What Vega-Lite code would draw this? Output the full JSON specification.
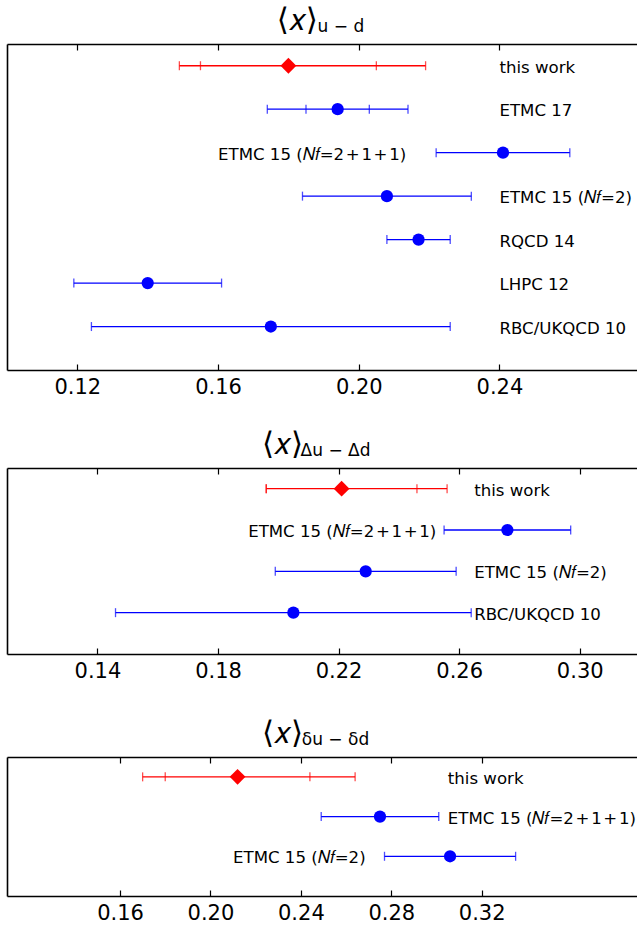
{
  "$schema": "https://vega.github.io/schema/vega-lite/v6.json",
  "padding": {"left": 7, "top": 5, "right": 0, "bottom": 0},
  "background": "white",
  "config": {
    "font": "DejaVu Sans",
    "view": {"stroke": null},
    "axis": {
      "domainColor": "black", "domainWidth": 1.6, "tickColor": "black", "tickWidth": 1.2,
      "tickSize": -6, "labelFontSize": 21, "labelColor": "black", "labelPadding": 12,
      "grid": false, "labelFont": "DejaVu Sans", "title": null
    },
    "title": {
      "fontSize": 31, "subtitleFontSize": 17, "subtitlePadding": -18, "fontWeight": "normal",
      "color": "black", "subtitleColor": "black", "font": "DejaVu Sans", "subtitleFont": "DejaVu Sans",
      "anchor": "middle", "offset": 6
    }
  },
  "datasets": {
    "ud": [
      {"row": 0, "kind": "this", "label": "this work", "value": 0.180, "lo": 0.149, "hi": 0.219, "ilo": 0.155, "ihi": 0.205, "lx": 0.24},
      {"row": 1, "kind": "other", "label": "ETMC 17", "value": 0.194, "lo": 0.174, "hi": 0.214, "ilo": 0.185, "ihi": 0.203, "lx": 0.24},
      {"row": 2, "kind": "other", "label": "ETMC 15 (𝑁𝑓=2\u200a+\u200a1\u200a+\u200a1)", "value": 0.241, "lo": 0.222, "hi": 0.260, "ilo": null, "ihi": null, "lx": 0.16},
      {"row": 3, "kind": "other", "label": "ETMC 15 (𝑁𝑓=2)", "value": 0.208, "lo": 0.184, "hi": 0.232, "ilo": null, "ihi": null, "lx": 0.24},
      {"row": 4, "kind": "other", "label": "RQCD 14", "value": 0.217, "lo": 0.208, "hi": 0.226, "ilo": null, "ihi": null, "lx": 0.24},
      {"row": 5, "kind": "other", "label": "LHPC 12", "value": 0.140, "lo": 0.119, "hi": 0.161, "ilo": null, "ihi": null, "lx": 0.24},
      {"row": 6, "kind": "other", "label": "RBC/UKQCD 10", "value": 0.175, "lo": 0.124, "hi": 0.226, "ilo": null, "ihi": null, "lx": 0.24}
    ],
    "dud": [
      {"row": 0, "kind": "this", "label": "this work", "value": 0.221, "lo": 0.196, "hi": 0.256, "ilo": 0.196, "ihi": 0.246, "lx": 0.265},
      {"row": 1, "kind": "other", "label": "ETMC 15 (𝑁𝑓=2\u200a+\u200a1\u200a+\u200a1)", "value": 0.276, "lo": 0.255, "hi": 0.297, "ilo": null, "ihi": null, "lx": 0.19},
      {"row": 2, "kind": "other", "label": "ETMC 15 (𝑁𝑓=2)", "value": 0.229, "lo": 0.199, "hi": 0.259, "ilo": null, "ihi": null, "lx": 0.265},
      {"row": 3, "kind": "other", "label": "RBC/UKQCD 10", "value": 0.205, "lo": 0.146, "hi": 0.264, "ilo": null, "ihi": null, "lx": 0.265}
    ],
    "tud": [
      {"row": 0, "kind": "this", "label": "this work", "value": 0.212, "lo": 0.170, "hi": 0.264, "ilo": 0.180, "ihi": 0.244, "lx": 0.305},
      {"row": 1, "kind": "other", "label": "ETMC 15 (𝑁𝑓=2\u200a+\u200a1\u200a+\u200a1)", "value": 0.275, "lo": 0.249, "hi": 0.301, "ilo": null, "ihi": null, "lx": 0.305},
      {"row": 2, "kind": "other", "label": "ETMC 15 (𝑁𝑓=2)", "value": 0.306, "lo": 0.277, "hi": 0.335, "ilo": null, "ihi": null, "lx": 0.21}
    ]
  },
  "bounds": "flush",
  "spacing": 98,
  "vconcat": [
    {
      "width": 630, "height": 326,
      "title": {"text": "⟨𝑥⟩\u00a0\u00a0\u00a0\u00a0\u00a0\u200b", "subtitle": "\u200b\u00a0\u00a0\u00a0\u00a0\u00a0\u00a0\u00a0u − d"},
      "data": {"name": "ud"},
      "encoding": {
        "y": {"field": "row", "type": "quantitative", "scale": {"domain": [-0.5, 7], "reverse": true, "nice": false, "zero": false}, "axis": {"orient": "left", "ticks": false, "labels": false, "domain": true}},
        "color": {"field": "kind", "type": "nominal", "scale": {"domain": ["this", "other"], "range": ["#ff0000", "#0000ff"]}, "legend": null}
      },
      "layer": [
        {"mark": {"type": "rule", "strokeWidth": 1.3}, "encoding": {"x": {"field": "lo", "type": "quantitative", "scale": {"domain": [0.10, 0.2791], "nice": false, "zero": false}, "axis": {"orient": "bottom", "values": [0.12, 0.16, 0.20, 0.24], "format": ".2f"}}, "x2": {"field": "hi"}}},
        {"mark": {"type": "tick", "orient": "vertical", "size": 9, "thickness": 1.3}, "encoding": {"x": {"field": "lo", "type": "quantitative", "axis": {"orient": "top", "values": [0.12, 0.16, 0.20, 0.24], "labels": false}}}},
        {"mark": {"type": "tick", "orient": "vertical", "size": 9, "thickness": 1.3}, "encoding": {"x": {"field": "hi", "type": "quantitative", "axis": null}}},
        {"mark": {"type": "tick", "orient": "vertical", "size": 9, "thickness": 1.3}, "encoding": {"x": {"field": "ilo", "type": "quantitative", "axis": null}}},
        {"mark": {"type": "tick", "orient": "vertical", "size": 9, "thickness": 1.3}, "encoding": {"x": {"field": "ihi", "type": "quantitative", "axis": null}}},
        {"transform": [{"filter": "datum.kind === 'other'"}], "mark": {"type": "point", "shape": "circle", "filled": true, "size": 150, "opacity": 1}, "encoding": {"x": {"field": "value", "type": "quantitative", "axis": null}}},
        {"transform": [{"filter": "datum.kind === 'this'"}], "mark": {"type": "point", "shape": "diamond", "filled": true, "size": 250, "opacity": 1}, "encoding": {"x": {"field": "value", "type": "quantitative", "axis": null}}},
        {"mark": {"type": "text", "align": "left", "baseline": "middle", "fontSize": 16.6, "dy": 2}, "encoding": {"x": {"field": "lx", "type": "quantitative", "axis": null}, "text": {"field": "label"}, "color": {"value": "black"}}}
      ],
      "resolve": {"axis": {"x": "independent"}}
    },
    {
      "bounds": "flush",
      "spacing": 103,
      "vconcat": [
        {
          "width": 630, "height": 186,
          "title": {"text": "⟨𝑥⟩\u00a0\u00a0\u00a0\u00a0\u00a0\u00a0\u00a0\u00a0\u200b", "subtitle": "\u200b\u00a0\u00a0\u00a0\u00a0\u00a0\u00a0\u00a0Δu − Δd\u00a0\u00a0\u200b"},
          "data": {"name": "dud"},
          "encoding": {
            "y": {"field": "row", "type": "quantitative", "scale": {"domain": [-0.5, 4], "reverse": true, "nice": false, "zero": false}, "axis": {"orient": "left", "ticks": false, "labels": false, "domain": true}},
            "color": {"field": "kind", "type": "nominal", "scale": {"domain": ["this", "other"], "range": ["#ff0000", "#0000ff"]}, "legend": null}
          },
          "layer": [
            {"mark": {"type": "rule", "strokeWidth": 1.3}, "encoding": {"x": {"field": "lo", "type": "quantitative", "scale": {"domain": [0.11, 0.319], "nice": false, "zero": false}, "axis": {"orient": "bottom", "values": [0.14, 0.18, 0.22, 0.26, 0.30], "format": ".2f"}}, "x2": {"field": "hi"}}},
            {"mark": {"type": "tick", "orient": "vertical", "size": 9, "thickness": 1.3}, "encoding": {"x": {"field": "lo", "type": "quantitative", "axis": {"orient": "top", "values": [0.14, 0.18, 0.22, 0.26, 0.30], "labels": false}}}},
            {"mark": {"type": "tick", "orient": "vertical", "size": 9, "thickness": 1.3}, "encoding": {"x": {"field": "hi", "type": "quantitative", "axis": null}}},
            {"mark": {"type": "tick", "orient": "vertical", "size": 9, "thickness": 1.3}, "encoding": {"x": {"field": "ilo", "type": "quantitative", "axis": null}}},
            {"mark": {"type": "tick", "orient": "vertical", "size": 9, "thickness": 1.3}, "encoding": {"x": {"field": "ihi", "type": "quantitative", "axis": null}}},
            {"transform": [{"filter": "datum.kind === 'other'"}], "mark": {"type": "point", "shape": "circle", "filled": true, "size": 150, "opacity": 1}, "encoding": {"x": {"field": "value", "type": "quantitative", "axis": null}}},
            {"transform": [{"filter": "datum.kind === 'this'"}], "mark": {"type": "point", "shape": "diamond", "filled": true, "size": 250, "opacity": 1}, "encoding": {"x": {"field": "value", "type": "quantitative", "axis": null}}},
            {"mark": {"type": "text", "align": "left", "baseline": "middle", "fontSize": 16.6, "dy": 2}, "encoding": {"x": {"field": "lx", "type": "quantitative", "axis": null}, "text": {"field": "label"}, "color": {"value": "black"}}}
          ],
          "resolve": {"axis": {"x": "independent"}}
        },
        {
          "width": 630, "height": 139,
          "title": {"text": "⟨𝑥⟩\u00a0\u00a0\u00a0\u00a0\u00a0\u00a0\u00a0\u00a0\u200b", "subtitle": "\u200b\u00a0\u00a0\u00a0\u00a0\u00a0\u00a0\u00a0δu − δd\u00a0\u00a0\u200b"},
          "data": {"name": "tud"},
          "encoding": {
            "y": {"field": "row", "type": "quantitative", "scale": {"domain": [-0.5, 3], "reverse": true, "nice": false, "zero": false}, "axis": {"orient": "left", "ticks": false, "labels": false, "domain": true}},
            "color": {"field": "kind", "type": "nominal", "scale": {"domain": ["this", "other"], "range": ["#ff0000", "#0000ff"]}, "legend": null}
          },
          "layer": [
            {"mark": {"type": "rule", "strokeWidth": 1.3}, "encoding": {"x": {"field": "lo", "type": "quantitative", "scale": {"domain": [0.11, 0.3887], "nice": false, "zero": false}, "axis": {"orient": "bottom", "values": [0.16, 0.20, 0.24, 0.28, 0.32], "format": ".2f"}}, "x2": {"field": "hi"}}},
            {"mark": {"type": "tick", "orient": "vertical", "size": 9, "thickness": 1.3}, "encoding": {"x": {"field": "lo", "type": "quantitative", "axis": {"orient": "top", "values": [0.16, 0.20, 0.24, 0.28, 0.32], "labels": false}}}},
            {"mark": {"type": "tick", "orient": "vertical", "size": 9, "thickness": 1.3}, "encoding": {"x": {"field": "hi", "type": "quantitative", "axis": null}}},
            {"mark": {"type": "tick", "orient": "vertical", "size": 9, "thickness": 1.3}, "encoding": {"x": {"field": "ilo", "type": "quantitative", "axis": null}}},
            {"mark": {"type": "tick", "orient": "vertical", "size": 9, "thickness": 1.3}, "encoding": {"x": {"field": "ihi", "type": "quantitative", "axis": null}}},
            {"transform": [{"filter": "datum.kind === 'other'"}], "mark": {"type": "point", "shape": "circle", "filled": true, "size": 150, "opacity": 1}, "encoding": {"x": {"field": "value", "type": "quantitative", "axis": null}}},
            {"transform": [{"filter": "datum.kind === 'this'"}], "mark": {"type": "point", "shape": "diamond", "filled": true, "size": 250, "opacity": 1}, "encoding": {"x": {"field": "value", "type": "quantitative", "axis": null}}},
            {"mark": {"type": "text", "align": "left", "baseline": "middle", "fontSize": 16.6, "dy": 2}, "encoding": {"x": {"field": "lx", "type": "quantitative", "axis": null}, "text": {"field": "label"}, "color": {"value": "black"}}}
          ],
          "resolve": {"axis": {"x": "independent"}}
        }
      ]
    }
  ]
}
